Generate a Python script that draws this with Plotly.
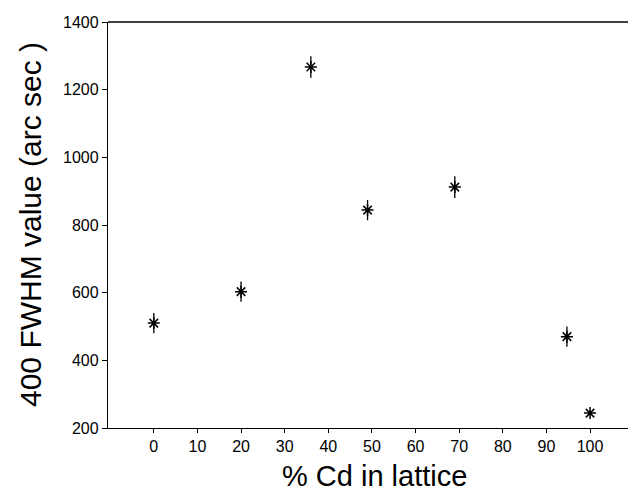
import plotly.graph_objects as go

cd_percent = [0, 20, 36, 49, 69, 94.7, 100]
fwhm = [510, 603, 1267, 844, 912, 470, 244]
err = [30, 30, 32, 30, 32, 30, 0]
x_ticks = [0, 10, 20, 30, 40, 50, 60, 70, 80, 90, 100]
y_ticks = [200, 400, 600, 800, 1000, 1200, 1400]

fig = go.Figure()
fig.add_trace(go.Scatter(
    x=cd_percent, y=fwhm, mode="markers",
    marker=dict(symbol="asterisk-open", size=10, color="black",
                line=dict(color="black", width=1.5)),
    error_y=dict(type="data", array=err, visible=True, thickness=1.3,
                 width=0, color="black"),
    showlegend=False,
))

font_family = "Liberation Sans, Arial, sans-serif"
fig.update_layout(
    width=629, height=493,
    margin=dict(l=108, r=1, t=22, b=65),
    paper_bgcolor="white", plot_bgcolor="white",
    font=dict(family=font_family, color="black"),
    xaxis=dict(
        range=[-10.5, 108.7], tickvals=x_ticks, ticks="outside", ticklen=4,
        tickwidth=1.2, tickcolor="black", showline=True, linecolor="black",
        linewidth=1.4, showgrid=False, zeroline=False, automargin=False,
        tickfont=dict(size=16, family=font_family),
    ),
    yaxis=dict(
        range=[200, 1400], tickvals=y_ticks, ticks="outside", ticklen=5,
        tickwidth=1.2, tickcolor="black", showline=True, linecolor="black",
        linewidth=1.4, showgrid=False, zeroline=False, automargin=False,
        tickfont=dict(size=16, family=font_family),
    ),
    shapes=[dict(type="line", xref="paper", yref="paper", x0=0, x1=1,
                 y0=1, y1=1, line=dict(color="black", width=1.4))],
    annotations=[
        dict(text="% Cd in lattice", xref="paper", yref="paper",
             x=0.513, y=-0.118, xanchor="center", yanchor="middle",
             showarrow=False, font=dict(size=29, family=font_family)),
        dict(text="400 FWHM value (arc sec )", xref="paper", yref="paper",
             x=-0.15, y=0.5, xanchor="center", yanchor="middle",
             textangle=-90, showarrow=False,
             font=dict(size=30, family=font_family)),
    ],
)

fig.write_html(
    "out.html",
    config={"displayModeBar": False},
    post_script="document.body.style.margin='0';document.body.style.overflow='hidden';",
)
